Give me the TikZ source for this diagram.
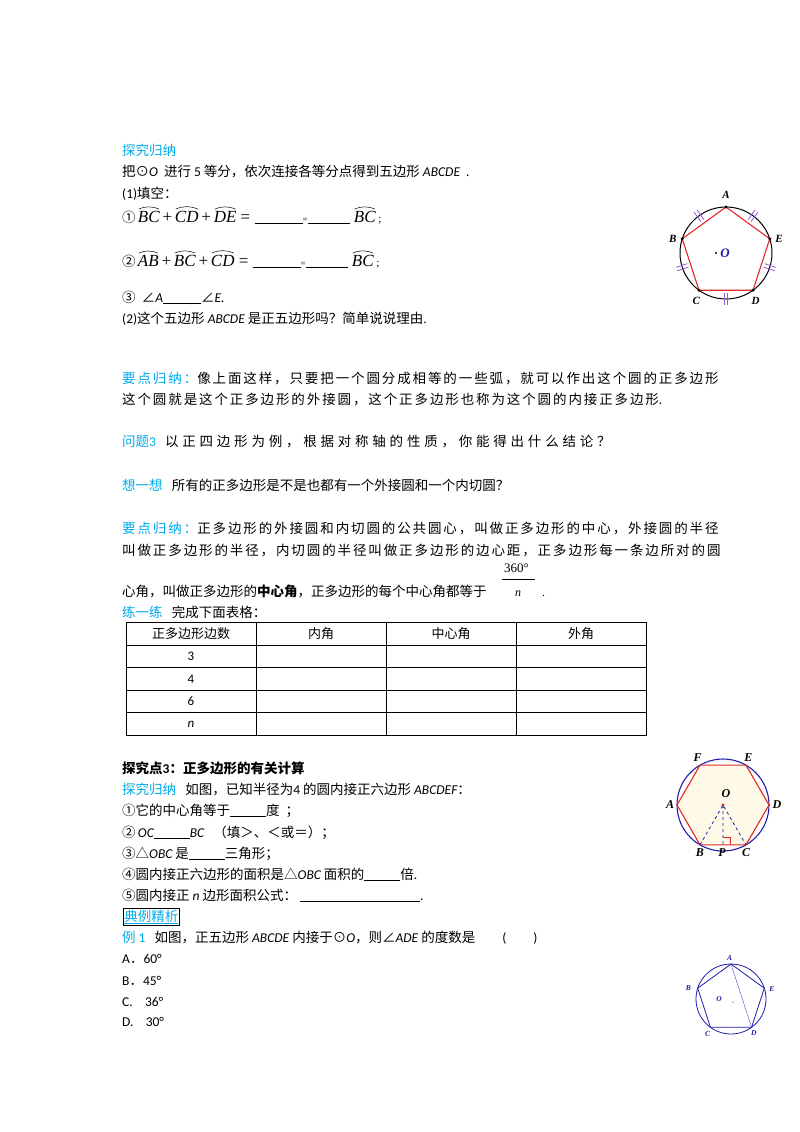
\documentclass[tikz,border=0pt]{standalone}
\usepackage{fontspec}
\setmainfont{Noto Sans CJK SC}
\newfontfamily\spc[LetterSpace=14]{Noto Sans CJK SC}
\newfontfamily\spw[LetterSpace=28]{Noto Sans CJK SC}
\newfontfamily\lat{Carlito}
\newfontfamily\ser{Liberation Serif}
\newcommand\li[1]{{\lat\itshape #1}}
\newcommand\lu[1]{{\lat #1}}
\newcommand\blank[1]{\rule[-1.5pt]{#1pt}{0.6pt}}
\newcommand\arcx[1]{\tikz[baseline=(q.base)]{\node[inner sep=0pt](q){\ser\itshape #1};\draw[line width=0.5pt] ([xshift=1pt,yshift=1.5pt]q.north west) to[bend left=22] ([xshift=-1pt,yshift=1.5pt]q.north east);}}
\definecolor{hd}{RGB}{0,170,235}
\definecolor{pen}{RGB}{225,40,40}
\definecolor{tick}{RGB}{150,90,220}
\definecolor{cblue}{RGB}{30,30,170}
\definecolor{hexfill}{RGB}{255,250,232}
\begin{document}
\begin{tikzpicture}[x=1pt,y=-1pt,
  txt/.style={anchor=base west,inner sep=0pt,font=\fontsize{13.5}{16}\selectfont},
  stxt/.style={anchor=base west,inner sep=0pt,font=\fontsize{13.5}{16}\selectfont\spc},
  lbl/.style={inner sep=0pt,font=\fontsize{11}{12}\selectfont\ser\bfseries\itshape},
  hl/.style={inner sep=0pt,font=\fontsize{12}{13}\selectfont\ser\bfseries\itshape},
  cell/.style={inner sep=0pt,font=\fontsize{13}{15}\selectfont}]
\useasboundingbox (0,0) rectangle (800,1132);
% ---------- section 1
\node[txt,text=hd] (h1) at (122,155) {探究归纳};
\node[txt] (l1) at (122,176) {把⊙\li{O} \ 进行 \lu{5} 等分，依次连接各等分点得到五边形 \li{ABCDE} \ \lu{.}};
\node[txt] (l2) at (122,198) {\lu{(1)}填空：};
\node[txt] (l3) at (122,222) {①\,{\fontsize{17}{18}\selectfont\ser\arcx{BC}\,+\,\arcx{CD}\,+\,\arcx{DE} = \blank{48}{\fontsize{9}{9}\selectfont =}\blank{42}\ \arcx{BC}}{\fontsize{11}{11}\selectfont\ser\ ;}};
\node[txt] (l4) at (122,266) {②\,{\fontsize{17}{18}\selectfont\ser\arcx{AB}\,+\,\arcx{BC}\,+\,\arcx{CD} = \blank{48}{\fontsize{9}{9}\selectfont =}\blank{42}\ \arcx{BC}}{\fontsize{11}{11}\selectfont\ser\ ;}};
\node[txt] (l5) at (122,302) {③\ \ ∠\li{A}\blank{38}∠\li{E.}};
\node[txt] (l6) at (122,323) {\lu{(2)}这个五边形 \li{ABCDE} 是正五边形吗？简单说说理由\lu{.}};
% ---------- section 2
\node[stxt] (m1) at (122,383) {\textcolor{hd}{要点归纳：}像上面这样，只要把一个圆分成相等的一些弧，就可以作出这个圆的正多边形};
\node[stxt] (m2) at (122,404) {这个圆就是这个正多边形的外接圆，这个正多边形也称为这个圆的内接正多边形\lu{.}};
\node[txt] (m3) at (122,446) {\textcolor{hd}{问题\lu{3}}\ \ \ {\spw 以正四边形为例，根据对称轴的性质，你能得出什么结论？}};
\node[txt] (m4) at (122,490) {\textcolor{hd}{想一想}\ \ \ 所有的正多边形是不是也都有一个外接圆和一个内切圆？};
\node[stxt] (m5) at (122,533) {\textcolor{hd}{要点归纳：}正多边形的外接圆和内切圆的公共圆心，叫做正多边形的中心，外接圆的半径};
\node[stxt] (m6) at (122,555) {叫做正多边形的半径，内切圆的半径叫做正多边形的边心距，正多边形每一条边所对的圆};
\node[txt] (m7) at (122,596) {心角，叫做正多边形的\textbf{中心角}，正多边形的每个中心角都等于};
\node[anchor=base west,inner sep=0pt,font=\fontsize{13}{14}\selectfont\ser] (f1) at (504,572) {360°};
\draw[line width=0.5pt] (502,579) -- (535,579);
\node[anchor=base west,inner sep=0pt,font=\fontsize{12}{14}\selectfont\ser\itshape] (f2) at (515,596) {n};
\node[anchor=base west,inner sep=0pt,font=\fontsize{12}{14}\selectfont\ser] (f3) at (542,596) {.};
\node[txt] (m8) at (122,617) {\textcolor{hd}{练一练}\ \ \ 完成下面表格：};
% ---------- table
\draw[line width=0.6pt] (126,622) rectangle (646,735);
\foreach \yy in {645,667,690,712} \draw[line width=0.6pt] (126,\yy) -- (646,\yy);
\foreach \xx in {256,386,516} \draw[line width=0.6pt] (\xx,622) -- (\xx,735);
\node[cell] (c1) at (191,634) {正多边形边数};
\node[cell] (c2) at (321,634) {内角};
\node[cell] (c3) at (451,634) {中心角};
\node[cell] (c4) at (581,634) {外角};
\node[cell] (r1) at (191,656) {\lu{3}};
\node[cell] (r2) at (191,679) {\lu{4}};
\node[cell] (r3) at (191,701) {\lu{6}};
\node[cell] (r4) at (191,724) {\li{n}};
% ---------- section 3
\node[txt] (s1) at (122,773) {\textbf{探究点\lu{\bfseries 3}：正多边形的有关计算}};
\node[txt] (s2) at (122,794) {\textcolor{hd}{探究归纳}\ \ \ 如图，已知半径为\lu{4} 的圆内接正六边形 \li{ABCDEF}：};
\node[txt] (s3) at (122,815) {①它的中心角等于\blank{36}度\ \ ；};
\node[txt] (s4) at (122,837) {②\,\li{OC}\blank{36}\li{BC}\ \ \ （填＞、＜或＝）；};
\node[txt] (s5) at (122,858) {③△\li{OBC} 是\blank{36}三角形；};
\node[txt] (s6) at (122,879) {④圆内接正六边形的面积是△\li{OBC} 面积的\blank{36}倍\lu{.}};
\node[txt] (s7) at (122,900) {⑤圆内接正 \li{n} 边形面积公式：\ \blank{120}\lu{.}};
\node[txt,text=hd,draw=black,line width=0.6pt,inner sep=1pt] (s8) at (123,921) {\underline{典例精析}};
\node[txt] (s9) at (122,942) {\textcolor{hd}{例 \lu{1}}\ \ \ 如图，正五边形 \li{ABCDE} 内接于⊙\li{O}，则∠\li{ADE} 的度数是\qquad\lu{(\qquad)}};
\node[txt] (a1) at (122,963) {\lu{A}．\lu{60°}};
\node[txt] (a2) at (122,985) {\lu{B}．\lu{45°}};
\node[txt] (a3) at (122,1006) {\lu{C.\ \ \ \ 36°}};
\node[txt] (a4) at (122,1026) {\lu{D.\ \ \ \ 30°}};
% ---------- figure 1: pentagon
\begin{scope}[shift={(726,253)}]
\coordinate (O1) at (0,0);
\draw[line width=1pt] (O1) circle (46);
\foreach \n/\a in {A/-90,B/-162,C/126,D/54,E/-18} \coordinate (P\n) at (\a:46);
\draw[pen,line width=1.1pt] (PA)--(PB)--(PC)--(PD)--(PE)--cycle;
\foreach \n in {A,B,C,D,E} \fill (P\n) circle (1.6);
\foreach \a in {-126,-54,18,90,162}{
  \draw[tick,line width=0.8pt] ([shift={(\a+90:1.8)}]\a:40) -- ([shift={(\a+90:1.8)}]\a:52);
  \draw[tick,line width=0.8pt] ([shift={(\a-90:1.8)}]\a:40) -- ([shift={(\a-90:1.8)}]\a:52);}
\node[lbl] (LA) at (-90:58) {A};
\node[lbl] (LB) at (-165:55) {B};
\node[lbl] (LC) at (122:56) {C};
\node[lbl] (LD) at (58:56) {D};
\node[lbl] (LE) at (-15:55) {E};
\fill (-10,0) circle (1.2);
\node[lbl,text=cblue,font=\fontsize{13}{14}\selectfont\ser\bfseries\itshape] (LO) at (-1,0) {O};
\end{scope}
% ---------- figure 2: hexagon
\begin{scope}[shift={(723,805)}]
\coordinate (O2) at (0,0);
\foreach \n/\a in {A/180,B/120,C/60,D/0,E/-60,F/-120} \coordinate (H\n) at (\a:46);
\fill[hexfill] (HA)--(HB)--(HC)--(HD)--(HE)--(HF)--cycle;
\draw[cblue,line width=1.1pt] (O2) circle (46);
\draw[pen,line width=1.1pt] (HA)--(HB)--(HC)--(HD)--(HE)--(HF)--cycle;
\coordinate (HP) at (90:39.8);
\draw[cblue,dashed,line width=0.8pt] (HB)--(O2)--(HC) (O2)--(HP);
\draw[pen,line width=0.8pt] ([shift={(0,-7)}]HP) -- ++(7,0) -- ++(0,7);
\fill[pen] (O2) circle (1.6);
\node[hl] (XA) at (180:53) {A};
\node[hl] (XB) at (116:53) {B};
\node[hl] (XC) at (64:53) {C};
\node[hl] (XD) at (0:54) {D};
\node[hl] (XE) at (-62:54) {E};
\node[hl] (XF) at (-118:54) {F};
\node[hl] (XO) at (3,-11) {O};
\node[hl] (XP) at (-1,48) {P};
\end{scope}
% ---------- figure 3: small pentagon
\begin{scope}[shift={(731,999)}]
\coordinate (O3) at (0,0);
\draw[cblue,line width=0.8pt] (O3) circle (35);
\foreach \n/\a in {A/-90,B/-162,C/126,D/54,E/-18} \coordinate (S\n) at (\a:35);
\draw[cblue,line width=0.8pt] (SA)--(SB)--(SC)--(SD)--(SE)--cycle;
\draw[cblue,line width=0.3pt] (SA)--(SD);
\fill[cblue] (2,3) circle (0.7);
\foreach \n/\a/\r in {A/-92/41,B/-166/44,C/124/42,D/56/41,E/-14/42}
  \node[lbl,text=cblue,font=\fontsize{7.5}{8}\selectfont\ser\bfseries\itshape] (Y\n) at (\a:\r) {\n};
\node[lbl,text=cblue,font=\fontsize{7.5}{8}\selectfont\ser\bfseries\itshape] (YO) at (-12,0) {O};
\end{scope}
\end{tikzpicture}
\end{document}
